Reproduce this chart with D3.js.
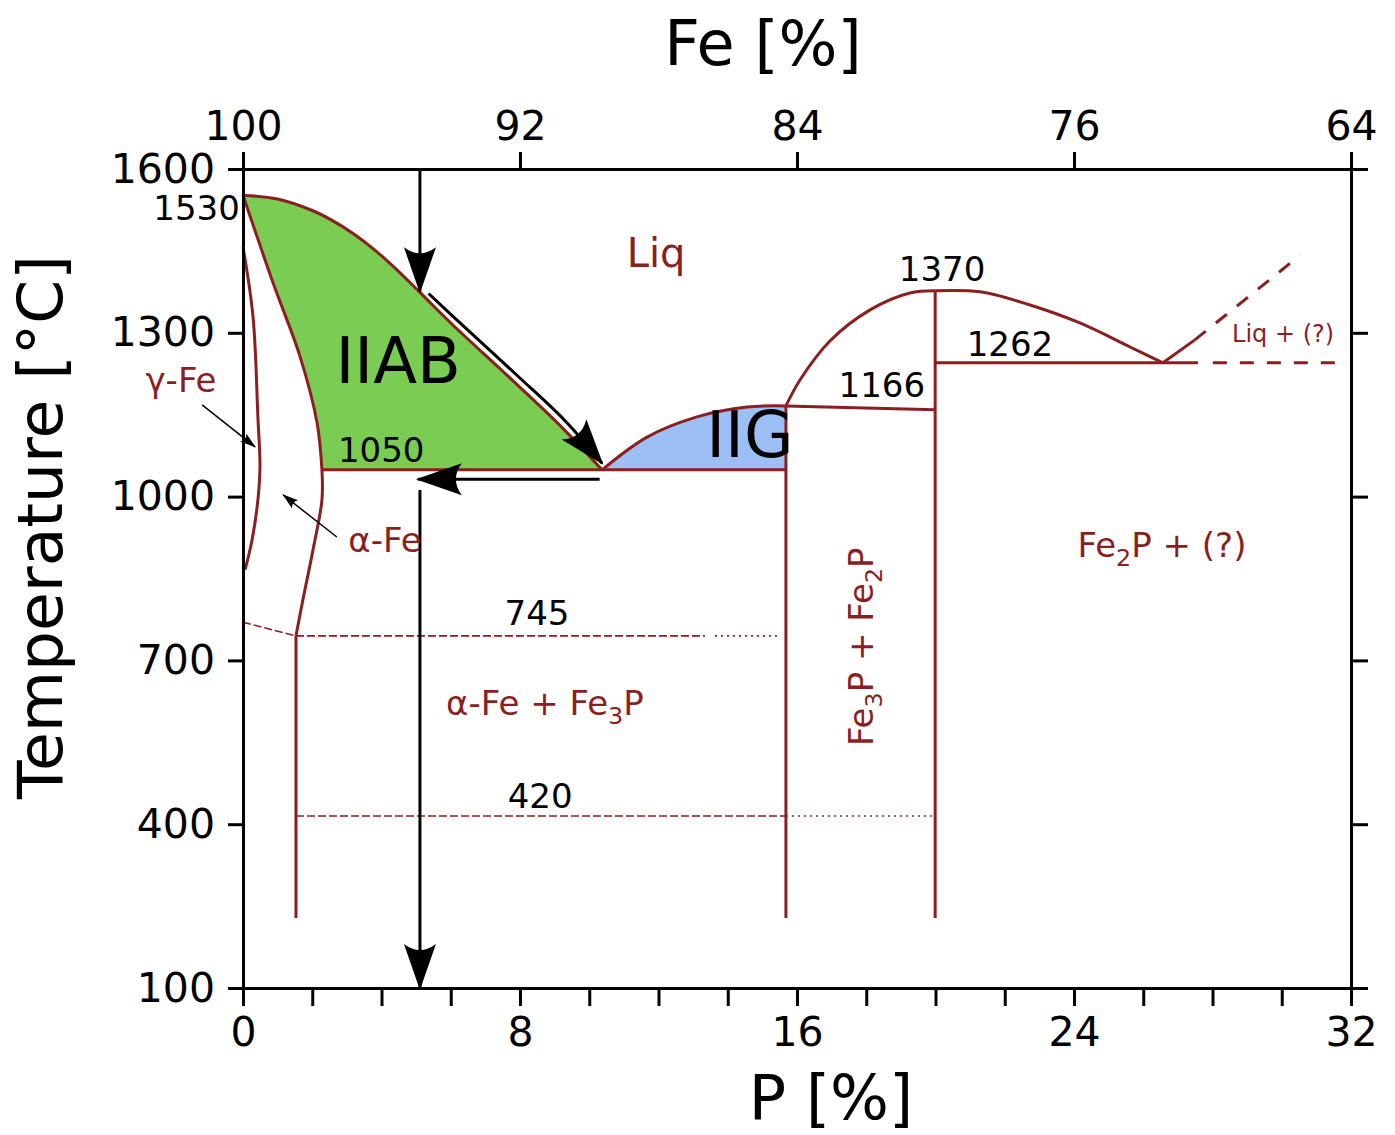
<!DOCTYPE html>
<html>
<head>
<meta charset="utf-8">
<script src="https://cdn.jsdelivr.net/npm/d3@7"></script>
<style>
  body { margin: 0; background: #fff; }
  svg { display: block; font-family: "DejaVu Sans", sans-serif; }
</style>
</head>
<body>
<svg id="chart" width="1395" height="1135"></svg>
<script>
// Fe-P phase diagram (iron meteorite groups IIAB / IIG)

// axis ticks
const T_TICKS = [100, 400, 700, 1000, 1300, 1600];
const P_TICKS = d3.range(0, 33, 2);
const P_LABELED = [0, 8, 16, 24, 32];
const FE_LABELS = ["100", "92", "84", "76", "64"];

// phase boundaries, [P %, T °C]
const liqIIAB = [[0, 1552], [1, 1545], [2, 1524], [2.6, 1505], [3.2, 1481], [3.8, 1452], [4.4, 1418], [5.11, 1374], [6, 1318], [7.8, 1212], [9.16, 1130], [10.37, 1049]];
const solIIAB = [[0, 1552], [0.87, 1391], [1.65, 1256], [2.14, 1135], [2.28, 1049]];
const alphaEdge = [[2.28, 1049], [2.28, 994], [2.02, 902], [1.73, 811], [1.53, 745]];
const gammaLoop = [[0, 1457], [0.29, 1329], [0.43, 1146], [0.49, 1054], [0.43, 994], [0.26, 920], [0.06, 866]];
const liqIIG = [[10.37, 1049], [11.67, 1109], [13.11, 1146], [14.56, 1164], [15.68, 1166]];
const liqFe3P = [[15.68, 1166], [16.09, 1214], [16.95, 1285], [18.11, 1342], [19.26, 1373], [19.99, 1377]];
const liqFe2P = [[19.99, 1377], [21.29, 1375], [22.73, 1351], [24.17, 1318], [25.62, 1274], [26.57, 1245]];

const solidSegs = [
  [[2.28, 1049], [15.68, 1049]],
  [[15.68, 1166], [15.68, 228]],
  [[15.68, 1166], [19.99, 1159]],
  [[19.99, 1377], [19.99, 228]],
  [[19.99, 1245], [27.58, 1245]],
  [[26.57, 1245], [27.49, 1287]],
  [[1.53, 745], [1.53, 228]]
];
const thinDashSegs = [
  [[0, 770], [1.53, 745]],
  [[1.53, 745], [13.34, 745]],
  [[1.53, 415], [15.68, 415]]
];
const dotSegs = [
  [[13.63, 745], [15.42, 745]],
  [[15.68, 415], [19.9, 415]]
];
const thickDashSegs = [
  [[28.01, 1245], [31.68, 1245]],
  [[27.49, 1287], [30.53, 1442]]
];

// black arrows
const bigArrows = [
  [[5.11, 1600], [5.11, 1376]],
  [[5.36, 1372], [6.15, 1325], [7.95, 1220], [9.3, 1139], [10.37, 1061]],
  [[10.3, 1032], [5.05, 1032]],
  [[5.11, 1012], [5.11, 100]]
];
const smallArrows = [
  [[-1.18, 1168], [0.35, 1091]],
  [[2.71, 926], [1.16, 1003]]
];

// annotations: text, P, T, size, colour key, anchor
const labels = [
  ["Liq", 11.93, 1420, 40, "red", "middle"],
  ["IIAB", 4.48, 1208, 64, "black", "middle"],
  ["IIG", 14.64, 1073, 64, "black", "middle"],
  ["1050", 3.99, 1063, 34, "black", "middle"],
  ["1530", -0.09, 1507, 34, "black", "end"],
  ["1370", 20.19, 1395, 34, "black", "middle"],
  ["1262", 22.15, 1258, 34, "black", "middle"],
  ["1166", 18.45, 1182, 34, "black", "middle"],
  ["745", 8.49, 765, 34, "black", "middle"],
  ["420", 8.58, 430, 34, "black", "middle"],
  ["γ-Fe", -1.79, 1192, 34, "red", "middle"],
  ["α-Fe", 4.1, 898, 34, "red", "middle"],
  ["α-Fe + Fe_3P", 8.72, 600, 34, "red", "middle"],
  ["Fe_2P + (?)", 26.54, 889, 34, "red", "middle"],
  ["Liq + (?)", 30.04, 1283, 24, "red", "middle"]
];
const vertLabel = ["Fe_3P + Fe_2P", 18.19, 725, 34];

const RED = "#8b1f1f";
const GREEN = "#7acc52";
const BLUE = "#9cbff5";

const svg = d3.select("#chart");
const x = d3.scaleLinear().domain([0, 32]).range([243, 1351]);
const y = d3.scaleLinear().domain([100, 1600]).range([988, 169]);

const line = d3.line().x(d => x(d[0])).y(d => y(d[1]));
const smooth = d3.line().x(d => x(d[0])).y(d => y(d[1])).curve(d3.curveCatmullRom);

// arrow heads
const defs = svg.append("defs");
defs.append("marker")
  .attr("id", "bigHead")
  .attr("viewBox", "-50 -20 55 40")
  .attr("refX", 0).attr("refY", 0)
  .attr("markerWidth", 55).attr("markerHeight", 40)
  .attr("markerUnits", "userSpaceOnUse")
  .attr("orient", "auto")
  .append("path")
  .attr("d", "M2,0 L-44,-16 Q-32,0 -44,16 Z")
  .attr("fill", "#000");
defs.append("marker")
  .attr("id", "smallHead")
  .attr("viewBox", "-20 -8 24 16")
  .attr("refX", 0).attr("refY", 0)
  .attr("markerWidth", 24).attr("markerHeight", 16)
  .attr("markerUnits", "userSpaceOnUse")
  .attr("orient", "auto")
  .append("path")
  .attr("d", "M1,0 L-15,-5 Q-11,0 -15,5 Z")
  .attr("fill", "#000");

// 1. filled regions
svg.append("path")
  .attr("d", smooth(liqIIAB) + "L" + smooth(solIIAB.slice().reverse()).slice(1) + "Z")
  .attr("fill", GREEN);

svg.append("path")
  .attr("d", smooth(liqIIG) + "L" + x(15.68) + "," + y(1049) + "Z")
  .attr("fill", BLUE);

// 2. phase boundaries
const g = svg.append("g").attr("fill", "none").attr("stroke", RED);

[liqIIAB, solIIAB, alphaEdge, gammaLoop, liqIIG, liqFe3P, liqFe2P].forEach(c => {
  g.append("path").attr("d", smooth(c)).attr("stroke-width", 3);
});

g.selectAll(".solid").data(solidSegs).join("path")
  .attr("d", line).attr("stroke-width", 3);

g.selectAll(".thin").data(thinDashSegs).join("path")
  .attr("d", line).attr("stroke-width", 1.6).attr("stroke-dasharray", "8,3");

g.selectAll(".dot").data(dotSegs).join("path")
  .attr("d", line).attr("stroke-width", 1.6).attr("stroke-dasharray", "2,4");

g.selectAll(".thick").data(thickDashSegs).join("path")
  .attr("d", line).attr("stroke-width", 3).attr("stroke-dasharray", "14,13");

// 3. arrows
const ga = svg.append("g").attr("fill", "none").attr("stroke", "#000");
ga.selectAll(".big").data(bigArrows).join("path")
  .attr("d", smooth)
  .attr("stroke-width", 3)
  .attr("marker-end", "url(#bigHead)");
ga.selectAll(".small").data(smallArrows).join("path")
  .attr("d", line)
  .attr("stroke-width", 1.5)
  .attr("marker-end", "url(#smallHead)");

// 4. axes
function styleAxis(sel) {
  sel.attr("font-size", 41).attr("font-family", "DejaVu Sans, sans-serif");
  sel.selectAll("path, line").attr("stroke", "#000").attr("stroke-width", 3);
  sel.selectAll("text").attr("fill", "#000");
}

svg.append("g")
  .attr("transform", `translate(${x(0)},0)`)
  .call(d3.axisLeft(y).tickValues(T_TICKS).tickSize(15).tickSizeOuter(0).tickPadding(13).tickFormat(d3.format("d")))
  .call(styleAxis);

svg.append("g")
  .attr("transform", `translate(${x(32)},0)`)
  .call(d3.axisRight(y).tickValues(T_TICKS).tickSize(17).tickSizeOuter(0).tickFormat(""))
  .call(styleAxis);

svg.append("g")
  .attr("transform", `translate(0,${y(100)})`)
  .call(d3.axisBottom(x).tickValues(P_TICKS).tickSize(18).tickSizeOuter(0).tickPadding(11)
    .tickFormat(d => P_LABELED.includes(d) ? d : ""))
  .call(styleAxis);

svg.append("g")
  .attr("transform", `translate(0,${y(1600)})`)
  .call(d3.axisTop(x).tickValues(P_LABELED).tickSize(17).tickSizeOuter(0).tickPadding(12)
    .tickFormat((d, i) => FE_LABELS[i]))
  .call(styleAxis);

// axis titles
svg.append("text")
  .attr("x", 763).attr("y", 65)
  .attr("text-anchor", "middle").attr("font-size", 62)
  .text("Fe [%]");

svg.append("text")
  .attr("x", 831).attr("y", 1119)
  .attr("text-anchor", "middle").attr("font-size", 62)
  .text("P [%]");

svg.append("text")
  .attr("transform", "translate(62,527) rotate(-90)")
  .attr("text-anchor", "middle").attr("font-size", 63)
  .text("Temperature [°C]");

// 5. annotations ("_d" marks a subscript digit)
function addRich(sel, str, size) {
  const parts = str.split(/_(\d)/);
  const shift = Math.round(size * 0.25);
  parts.forEach((p, i) => {
    if (p === "") return;
    if (i % 2 === 1) {
      sel.append("tspan").attr("font-size", size * 0.7).attr("dy", shift).text(p);
    } else {
      const t = sel.append("tspan").text(p);
      if (i > 0) t.attr("dy", -shift);
    }
  });
}

labels.forEach(d => {
  const t = svg.append("text")
    .attr("x", x(d[1])).attr("y", y(d[2]))
    .attr("font-size", d[3])
    .attr("fill", d[4] === "red" ? RED : "#000")
    .attr("text-anchor", d[5]);
  addRich(t, d[0], d[3]);
});

const vt = svg.append("text")
  .attr("transform", `translate(${x(vertLabel[1])},${y(vertLabel[2])}) rotate(-90)`)
  .attr("font-size", vertLabel[3])
  .attr("fill", RED)
  .attr("text-anchor", "middle");
addRich(vt, vertLabel[0], vertLabel[3]);
</script>
</body>
</html>
